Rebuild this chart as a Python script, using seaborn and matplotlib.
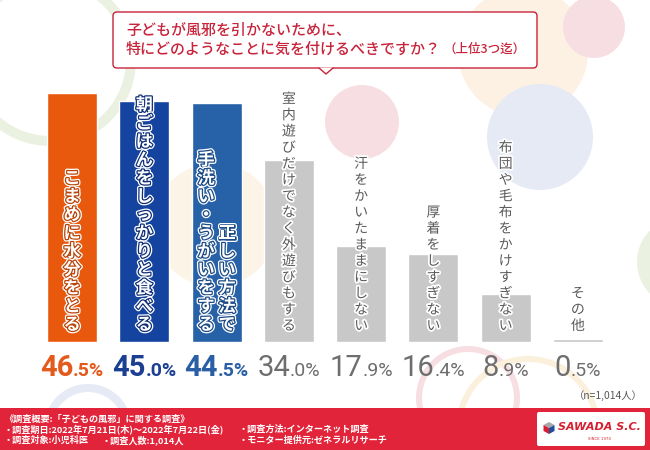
import matplotlib
matplotlib.use("Agg")
import matplotlib.pyplot as plt
import matplotlib.patheffects as pe
from matplotlib.patches import Circle, Rectangle, FancyBboxPatch, Polygon
from matplotlib.offsetbox import TextArea, HPacker, AnnotationBbox
import pandas as pd
import seaborn as sns

# Data
categories = [
    "こまめに水分をとる",
    "朝ごはんをしっかりと食べる",
    "正しい方法で手洗い・うがいをする",
    "室内遊びだけでなく外遊びもする",
    "汗をかいたままにしない",
    "厚着をしすぎない",
    "布団や毛布をかけすぎない",
    "その他",
]
values = [46.5, 45.0, 44.5, 34.0, 17.9, 16.4, 8.9, 0.5]
# vertical label columns, right column first
label_columns = [
    ["こまめに水分をとる"],
    ["朝ごはんをしっかりと食べる"],
    ["正しい方法で", "手洗い・うがいをする"],
    ["室内遊びだけでなく外遊びもする"],
    ["汗をかいたままにしない"],
    ["厚着をしすぎない"],
    ["布団や毛布をかけすぎない"],
    ["その他"],
]
title_line1 = "子どもが風邪を引かないために、"
title_line2 = "特にどのようなことに気を付けるべきですか？"
title_note = "（上位3つ迄）"
sample_note = "（n=1,014人）"

# Styles
bar_colors = ["#E8590E", "#1443A0", "#2762A8"] + ["#C8C8C8"] * 5
outline_colors = ["#B8440A", "#0E2F78", "#1B4A85"]
pct_colors = ["#E35A1C", "#1B3F92", "#2A5FA5"] + ["#6E6E6E"] * 5
red = "#C8233A"

sns.set_style("white")
plt.rcParams["font.family"] = ["Noto Sans CJK JP", "DejaVu Sans"]

fig = plt.figure(figsize=(6.5, 4.5), dpi=100)

# background layer in pixel coordinates
bg = fig.add_axes([0, 0, 1, 1], zorder=0)
bg.set_xlim(0, 650)
bg.set_ylim(450, 0)
bg.axis("off")

circles = [
    (50, 60, 86, "#EBF1E1", 10),
    (215, 225, 62, "#FDF4E8", None),
    (523, 52, 65, "#FCF1E2", None),
    (594, 27, 31, "#F7DEE2", None),
    (362, 122, 37, "#F7DEE2", None),
    (540, 137, 53, "#E5EAF4", None),
    (682, 262, 45, "#EBF1E1", None),
    (88, 428, 44, "#E5EAF4", 8),
    (468, 398, 52, "#F7DEE2", 6),
    (528, 428, 72, "#FBF0DC", 6),
]
for cx, cy, r, col, w in circles:
    if w is None:
        bg.add_patch(Circle((cx, cy), r, fc=col, ec="none", zorder=1))
    else:
        bg.add_patch(Circle((cx, cy), r - w / 2, fill=False, ec=col,
                            lw=w * 0.72, zorder=1))

# callout title
bg.add_patch(FancyBboxPatch((113, 12), 424, 56,
                            boxstyle="round,pad=0,rounding_size=4",
                            fc="white", ec=red, lw=1, zorder=3))
bg.add_patch(Polygon([(319, 67.5), (326, 74), (333, 67.5)], closed=True,
                     fc="white", ec="none", zorder=4))
bg.plot([319, 326, 333], [68, 74, 68], color=red, lw=1, zorder=4)
bg.text(126, 30, title_line1, fontsize=10.8, color=red, va="center",
        fontweight="medium", zorder=5)
line2 = HPacker(children=[
    TextArea(title_line2, textprops=dict(fontsize=10.8, color=red, fontweight="medium")),
    TextArea(title_note, textprops=dict(fontsize=9.0, color=red, fontweight="medium")),
], align="center", pad=0, sep=2)
bg.add_artist(AnnotationBbox(line2, (126, 49), xycoords="data", frameon=False,
                             box_alignment=(0, 0.5), zorder=5))

bg.text(643, 396, sample_note, ha="right", va="center", fontsize=7.4,
        color="#555555", zorder=5)

# footer
bg.add_patch(Rectangle((0, 408), 650, 42, fc="#E2243A", ec="none", zorder=5))
footer = [
    (4, 419, "《調査概要:「子どもの風邪」に関する調査》"),
    (4, 429.5, "・調査期日:2022年7月21日(木)～2022年7月22日(金)"),
    (239, 429.5, "・調査方法:インターネット調査"),
    (4, 440, "・調査対象:小児科医"),
    (102, 440, "・調査人数:1,014人"),
    (239, 440, "・モニター提供元:ゼネラルリサーチ"),
]
for fx, fy, txt in footer:
    bg.text(fx, fy, txt, fontsize=6.6, color="white", fontweight="bold",
            va="center", zorder=6)

# logo
bg.add_patch(FancyBboxPatch((537, 412), 108, 34,
                            boxstyle="round,pad=0,rounding_size=2",
                            fc="white", ec="none", zorder=6))
cx, cy = 549, 428
hexa = dict(t=(cx, cy - 6), ur=(cx + 5.5, cy - 3), lr=(cx + 5.5, cy + 3),
            b=(cx, cy + 6), ll=(cx - 5.5, cy + 3), ul=(cx - 5.5, cy - 3), c=(cx, cy))
bg.add_patch(Polygon([hexa["t"], hexa["ur"], hexa["c"], hexa["ul"]],
                     fc="#A8A8A8", ec="none", zorder=7))
bg.add_patch(Polygon([hexa["ul"], hexa["c"], hexa["b"], hexa["ll"]],
                     fc="#D61F30", ec="none", zorder=7))
bg.add_patch(Polygon([hexa["c"], hexa["ur"], hexa["lr"], hexa["b"]],
                     fc="#1F4E9E", ec="none", zorder=7))
bg.text(599, 427, "SAWADA S.C.", fontsize=8, fontweight="bold",
        fontstyle="italic", color="#D61F30", family="DejaVu Sans",
        ha="center", va="center", zorder=7)
bg.text(599, 439, "SINCE 1970", fontsize=2.8, color="#D61F30",
        family="DejaVu Sans", ha="center", va="center", zorder=7)

# chart
ax = fig.add_axes([36 / 650, 108 / 450, 578 / 650, 268 / 450], zorder=2)
ax.patch.set_alpha(0)
df = pd.DataFrame({"category": categories, "value": values})
sns.barplot(data=df, x="category", y="value", hue="category",
            palette=bar_colors, legend=False, width=0.69, saturation=1, ax=ax)
ax.set_xlim(-0.5, len(categories) - 0.5)
ax.set_ylim(0, 50)
ax.axis("off")

# vertical labels inside bars
for i, cols in enumerate(label_columns):
    highlight = i < 3
    size = 12.3 if highlight else 10
    step = 18.3 if highlight else 16.2
    if highlight:
        effects = [pe.Stroke(linewidth=3.6, foreground="white"),
                   pe.Stroke(linewidth=1.8, foreground=outline_colors[i]),
                   pe.Normal()]
        color, weight = "white", "bold"
    else:
        effects = [pe.Stroke(linewidth=2.5, foreground="white"), pe.Normal()]
        color, weight = "#5A5A5A", "normal"
    n_cols = len(cols)
    for ci, text in enumerate(cols):
        dx = (n_cols - 1) * 10.5 - ci * 21
        n = len(text)
        for k, ch in enumerate(text):
            up = 8 + (n - k - 0.5) * step
            ax.annotate(ch, xy=(i, 0), xytext=(dx, up), textcoords="offset pixels",
                        ha="center", va="center", fontsize=size, color=color,
                        fontweight=weight, path_effects=effects,
                        annotation_clip=False)

# percentage labels: big whole part + small decimal part, centred under bar
pct_pairs = []
for i, v in enumerate(values):
    whole, frac = f"{v:.1f}".split(".")
    weight = "bold" if i < 3 else "normal"
    kw = dict(xy=(i, 0), textcoords="offset pixels", ha="left", va="baseline",
              color=pct_colors[i], family="Roboto", fontweight=weight,
              annotation_clip=False)
    big = ax.annotate(whole, xytext=(0, -34.5), fontsize=21, **kw)
    small = ax.annotate("." + frac + "%", xytext=(0, -34.5), fontsize=14, **kw)
    pct_pairs.append((big, small))

renderer = fig.canvas.get_renderer()
for big, small in pct_pairs:
    w1 = big.get_window_extent(renderer).width
    w2 = small.get_window_extent(renderer).width
    start = -(w1 + w2) / 2
    big.xyann = (start, -34.5)
    small.xyann = (start + w1, -34.5)

fig.savefig("out.png", dpi=100)
